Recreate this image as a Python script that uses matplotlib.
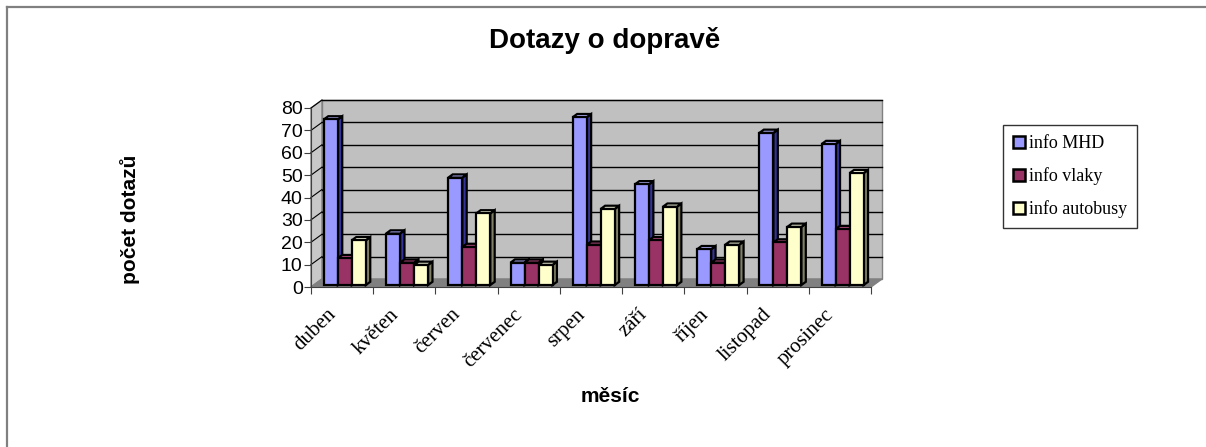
import numpy as np
import matplotlib
matplotlib.use('Agg')
import matplotlib.pyplot as plt
from matplotlib.patches import Polygon, Patch
from matplotlib.lines import Line2D
from matplotlib.transforms import ScaledTranslation

mesice = ['duben', 'květen', 'červen', 'červenec', 'srpen', 'září', 'říjen', 'listopad', 'prosinec']
info_mhd = [74, 23, 48, 10, 75, 45, 16, 68, 63]
info_vlaky = [12, 10, 17, 10, 18, 20, 10, 19, 25]
info_autobusy = [20, 9, 32, 9, 34, 35, 18, 26, 50]
serie = ['info MHD', 'info vlaky', 'info autobusy']
y_ticks = [0, 10, 20, 30, 40, 50, 60, 70, 80]

# front / side / top colours
barvy = [('#9999FF', '#333399', '#B3B3FF'),
         ('#993366', '#4D1933', '#B34D80'),
         ('#FFFFCC', '#808066', '#FFFFE6')]

W, H = 1206, 447
fig = plt.figure(figsize=(W / 100, H / 100), dpi=100)
ax_l, ax_b, ax_w, ax_h = 311, 287, 560, 179   # pixels
ax = fig.add_axes([ax_l / W, 1 - ax_b / H, ax_w / W, ax_h / H])
n = len(mesice)
ymax = y_ticks[-1]
ax.set_xlim(0, n)
ax.set_ylim(0, ymax)
ax.patch.set_visible(False)

# depth in data units
sx = ax_w / n
sy = ax_h / ymax
DX = 11 / sx
DY = 8 / sy

# back wall, side wall, floor
ax.add_patch(Polygon([(DX, DY), (n + DX, DY), (n + DX, ymax + DY), (DX, ymax + DY)],
                     closed=True, fc='#C0C0C0', ec='#808080', lw=1, clip_on=False, zorder=0))
ax.add_patch(Polygon([(0, 0), (DX, DY), (DX, ymax + DY), (0, ymax)],
                     closed=True, fc='#C8C8C8', ec='#808080', lw=1, clip_on=False, zorder=0))
ax.add_patch(Polygon([(0, 0), (n, 0), (n + DX, DY), (DX, DY)],
                     closed=True, fc='#808080', ec='#808080', lw=1, clip_on=False, zorder=0.5))
for v in y_ticks[1:]:
    ax.plot([DX, n + DX], [v + DY, v + DY], color='black', lw=1, clip_on=False, zorder=0.2)
    ax.plot([0, DX], [v, v + DY], color='black', lw=0.8, clip_on=False, zorder=0.2)

# bars
w = 0.225
f0, f1 = 0.25, 0.65
x = np.arange(n)
for k, vals in enumerate([info_mhd, info_vlaky, info_autobusy]):
    front, side, top = barvy[k]
    left = x + 0.5 - 1.5 * w + k * w + f0 * DX
    bars = ax.bar(left, vals, width=w, bottom=f0 * DY, align='edge', color=front,
                  edgecolor='black', lw=1.6, zorder=3 + k * 0.1 + 0.05, clip_on=False)
    ddx = (f1 - f0) * DX
    ddy = (f1 - f0) * DY
    for r in bars:
        x0 = r.get_x()
        x1 = x0 + r.get_width()
        y0 = r.get_y()
        y1 = y0 + r.get_height()
        ax.add_patch(Polygon([(x1, y0), (x1, y1), (x1 + ddx, y1 + ddy), (x1 + ddx, y0 + ddy)],
                             closed=True, fc=side, ec='black', lw=1.6, zorder=3 + k * 0.1, clip_on=False))
        ax.add_patch(Polygon([(x0, y1), (x1, y1), (x1 + ddx, y1 + ddy), (x0 + ddx, y1 + ddy)],
                             closed=True, fc=top, ec='black', lw=1.6, zorder=3 + k * 0.1, clip_on=False))

# axes
for s in ['top', 'right']:
    ax.spines[s].set_visible(False)
for s in ['left', 'bottom']:
    ax.spines[s].set_color('#404040')
    ax.spines[s].set_linewidth(0.8)
ax.set_yticks(y_ticks)
ax.set_yticklabels([str(t) for t in y_ticks], fontsize=14, family='Liberation Sans')
ax.tick_params(axis='y', length=5, width=0.8, pad=1, color='#404040')
ax.set_xticks(np.arange(n + 1))
ax.set_xticklabels([])
ax.tick_params(axis='x', which='major', length=5, width=0.8, color='#404040')
ax.set_xticks(x + 0.5, minor=True)
ax.set_xticklabels(mesice, minor=True, rotation=45, ha='right', va='top',
                   fontsize=15, family='Liberation Serif')
ax.tick_params(axis='x', which='minor', length=0, pad=13)
off = ScaledTranslation(-0.02, 0, fig.dpi_scale_trans)
for lbl in ax.get_xticklabels(minor=True):
    lbl.set_transform(lbl.get_transform() + off)

# texts
fig.text(605 / W, 1 - 40 / H, 'Dotazy o dopravě', ha='center', va='center',
         fontsize=20, fontweight='bold', family='Liberation Sans')
fig.text(130 / W, 1 - 219 / H, 'počet dotazů', ha='center', va='center', rotation=90,
         fontsize=15, fontweight='bold', family='Liberation Sans')
fig.text(610 / W, 1 - 397 / H, 'měsíc', ha='center', va='center',
         fontsize=15, fontweight='bold', family='Liberation Sans')

# legend
handles = [Patch(fc=barvy[k][0], ec='black', lw=1.8) for k in range(3)]
leg = fig.legend(handles, serie, loc='upper left', bbox_to_anchor=(1003 / W, 1 - 125 / H),
                 prop={'family': 'Liberation Serif', 'size': 13}, frameon=True, fancybox=False,
                 borderaxespad=0, labelspacing=0.85, handlelength=0.65, handleheight=0.65,
                 handletextpad=0.25, borderpad=0.55)
leg.get_frame().set_edgecolor('black')
leg.get_frame().set_linewidth(1)

# chart border (top and left)
fig.add_artist(Line2D([6.5 / W, 6.5 / W], [0, 1 - 6.5 / H], color='#808080', lw=1.6))
fig.add_artist(Line2D([6.5 / W, 1], [1 - 6.5 / H, 1 - 6.5 / H], color='#808080', lw=1.6))

fig.savefig('out.png', dpi=100)
